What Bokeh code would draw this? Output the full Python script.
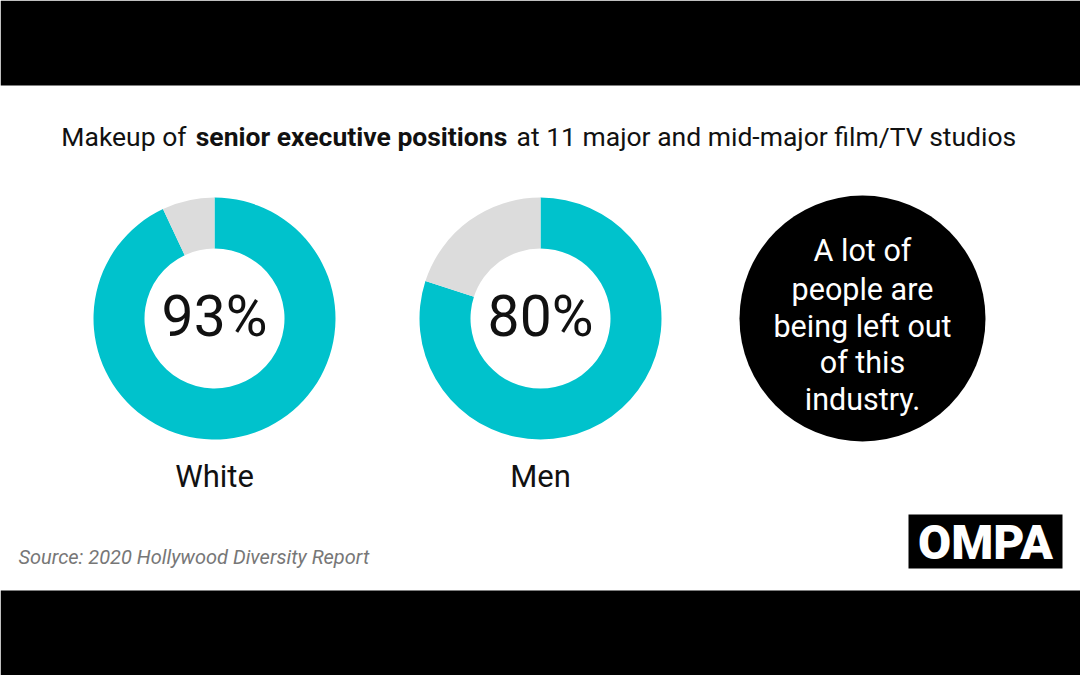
import math
from bokeh.plotting import figure
from bokeh.models import Range1d
from bokeh.core.properties import value
from bokeh.embed import file_html
from bokeh.resources import INLINE

# ---- data ----
categories = ["White", "Men"]
percent = [93, 80]
center_labels = ["93%", "80%"]
title_parts = ["Makeup of", "senior executive positions", "at 11 major and mid-major film/TV studios"]
message_lines = ["A lot of", "people are", "being left out", "of this", "industry."]
source_text = "Source: 2020 Hollywood Diversity Report"
logo_text = "OMPA"

TEAL = "#00C2CC"
GREY = "#DCDCDC"
FONT = value("Roboto")

W, H = 1080, 675


def Y(yr):
    return 675 - yr


p = figure(width=W, height=H, output_backend="svg", toolbar_location=None,
           x_range=Range1d(0, 1080), y_range=Range1d(0, 675),
           min_border=0)
p.axis.visible = False
p.grid.visible = False
p.outline_line_color = None
p.background_fill_color = "white"
p.border_fill_color = "white"

# black bars top and bottom
p.quad(left=[0, 0], right=[1080, 1080], top=[Y(0), Y(590)], bottom=[Y(85), Y(675)],
       fill_color="black", line_color=None)

# title
TS = "26.5px"
p.text(x=[186], y=[Y(136)], text=[title_parts[0]], text_font=FONT, text_font_size=TS,
       text_align="right", text_baseline="middle", text_color="#111111")
p.text(x=[351], y=[Y(136)], text=[title_parts[1]], text_font=FONT, text_font_size=TS,
       text_font_style="bold", text_align="center", text_baseline="middle", text_color="#111111")
p.text(x=[516], y=[Y(136)], text=[title_parts[2]], text_font=FONT, text_font_size=TS,
       text_align="left", text_baseline="middle", text_color="#111111")

# donuts
centers_x = [214, 540]
cy = Y(318)
r_in, r_out = 70, 121
for cx, pct, lab, cat in zip(centers_x, percent, center_labels, categories):
    a0 = math.pi / 2
    a1 = a0 - 2 * math.pi * pct / 100.0
    p.annular_wedge(x=[cx], y=[cy], inner_radius=r_in, outer_radius=r_out,
                    start_angle=[a0], end_angle=[a1], direction="clock",
                    fill_color=TEAL, line_color=None)
    p.annular_wedge(x=[cx], y=[cy], inner_radius=r_in, outer_radius=r_out,
                    start_angle=[a1], end_angle=[a0 - 2 * math.pi], direction="clock",
                    fill_color=GREY, line_color=None)
    p.text(x=[cx], y=[Y(316)], text=[lab], text_font=FONT, text_font_size="57px",
           text_align="center", text_baseline="middle", text_color="#111111")
    p.text(x=[cx], y=[Y(476)], text=[cat], text_font=FONT, text_font_size="31px",
           text_align="center", text_baseline="middle", text_color="#111111")

# black circle message
p.circle(x=[862], y=[Y(318)], radius=123, fill_color="black", line_color=None)
line_y = [250, 289, 326, 362, 399]
p.text(x=[862] * len(message_lines), y=[Y(v) for v in line_y], text=message_lines,
       text_font=FONT, text_font_size="30.5px", text_align="center",
       text_baseline="middle", text_color="white")

# source
p.text(x=[18], y=[Y(556)], text=[source_text], text_font=FONT, text_font_size="20px",
       text_font_style="italic", text_align="left", text_baseline="middle",
       text_color="#777777")

# logo
p.rect(x=[985], y=[Y(541)], width=154, height=54, fill_color="black", line_color=None)
p.text(x=[985], y=[Y(542)], text=[logo_text], text_font=value("'Roboto Black', 'Liberation Sans'"),
       text_font_size="48px", text_font_style="bold", text_align="center",
       text_baseline="middle", text_color="white")

open("out.html", "w").write(file_html(p, INLINE))
